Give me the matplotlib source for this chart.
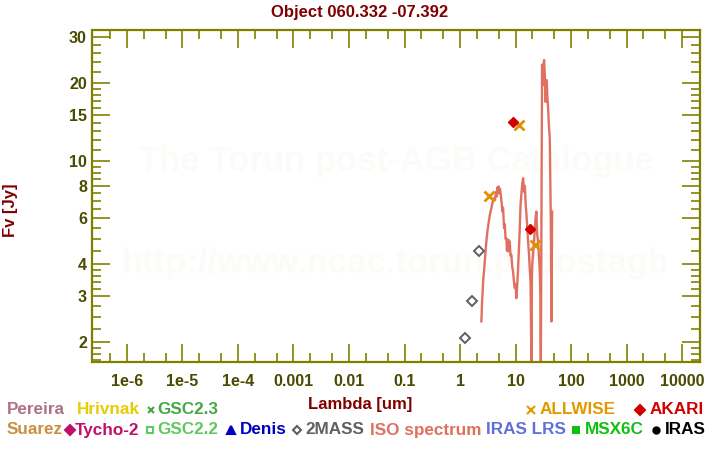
import matplotlib
matplotlib.use('Agg')
import matplotlib.pyplot as plt
from matplotlib.lines import Line2D
from matplotlib.ticker import FixedLocator, FixedFormatter, NullFormatter

plt.rcParams['font.family'] = ['Liberation Sans', 'DejaVu Sans']
plt.rcParams['font.weight'] = 'bold'

# ---------------- data ----------------
twomass_wave = [1.235, 1.662, 2.159]
twomass_flux = [2.07, 2.87, 4.47]

allwise_wave = [3.35, 11.56, 22.1]
allwise_flux = [7.33, 13.8, 4.75]

akari_wave = [9.0, 18.0]
akari_flux = [14.1, 5.48]

iso_wave = [2.42, 2.45, 2.49, 2.55, 2.60, 2.70, 2.79, 2.88, 2.98, 3.10,
            3.29, 3.45, 3.66, 3.85, 4.10, 4.25, 4.40, 4.51, 4.60, 4.72,
            4.85, 4.98, 5.10, 5.25, 5.41, 5.60, 5.78, 5.95, 6.21, 6.40,
            6.60, 6.83, 7.00, 7.15, 7.33, 7.50, 7.70, 7.86, 8.10, 8.40,
            8.70, 9.02, 9.30, 9.68, 10.0, 10.3, 10.7, 11.1, 11.5, 11.9,
            12.3, 12.7, 13.2, 13.7, 14.2, 14.7, 15.2, 15.7, 16.2, 16.8,
            17.4, 18.0, 18.6, 19.3, 19.7, 20.1, 20.8, 21.5, 22.3, 23.0,
            23.7, 24.5, 25.4, 26.3, 27.3, 28.0, 28.5, 30.0, 30.8, 31.6,
            32.6, 33.6, 34.6, 35.6, 36.4, 37.4, 38.3, 39.6, 41.3, 43.1,
            44.2, 45.5]
iso_flux = [2.40, 2.55, 2.86, 3.10, 3.42, 3.75, 4.09, 4.50, 4.88, 5.30,
            5.83, 6.20, 6.56, 6.90, 7.18, 7.05, 7.50, 7.61, 7.30, 7.90,
            7.55, 7.96, 7.50, 7.80, 7.39, 6.90, 6.37, 6.60, 5.50, 5.70,
            5.00, 5.03, 4.50, 4.95, 4.47, 4.95, 4.60, 4.88, 4.30, 4.34,
            3.90, 3.74, 3.45, 3.23, 3.35, 2.95, 3.30, 3.85, 4.60, 5.50,
            6.80, 7.39, 8.20, 8.57, 7.60, 8.00, 6.80, 6.19, 5.60, 4.88,
            4.40, 3.85, 3.40, 1.60, 3.60, 4.09, 4.40, 4.88, 5.50, 6.10,
            6.37, 5.20, 4.88, 4.30, 3.74, 3.00, 1.60, 23.5, 19.6, 23.0,
            24.5, 21.5, 16.9, 19.1, 20.5, 17.5, 16.4, 14.0, 12.2, 5.83,
            2.40, 6.37]

xtick_vals = [1e-6, 1e-5, 1e-4, 1e-3, 1e-2, 1e-1, 1, 10, 100, 1000, 10000]
xtick_labels = ['1e-6', '1e-5', '1e-4', '0.001', '0.01', '0.1', '1', '10',
                '100', '1000', '10000']
ytick_vals = [2, 3, 4, 6, 8, 10, 15, 20, 30]
ytick_labels = ['2', '3', '4', '6', '8', '10', '15', '20', '30']
yminor_vals = [1.7, 1.8, 1.9, 2.25, 2.5, 2.75, 3.2, 3.4, 3.6, 3.8, 4.5, 5,
               5.5, 6.5, 7, 7.5, 8.5, 9, 9.5, 11, 12, 13, 14, 16, 17, 18,
               19, 22, 24, 26, 28]

# ---------------- figure ----------------
W, H = 720, 450
fig = plt.figure(figsize=(7.2, 4.5), dpi=100)
fig.patch.set_facecolor('white')

def fx(x):
    return x / W

def fy(y):
    return 1 - y / H

ax = fig.add_axes([fx(92.5), fy(361.5), (699.5 - 92.5) / W, (361.5 - 30) / H])
ax.set_xscale('log')
ax.set_yscale('log')
ax.set_xlim(2.41e-7, 2.05e4)
ax.set_ylim(1.68, 32.0)

olive = '#808000'
for s in ax.spines.values():
    s.set_color(olive)
    s.set_linewidth(1.6)

xminor = []
for e in range(-7, 5):
    for m in (2, 5):
        v = m * 10.0 ** e
        if 2.41e-7 < v < 1.9e4:
            xminor.append(v)

ax.xaxis.set_major_locator(FixedLocator(xtick_vals))
ax.xaxis.set_major_formatter(FixedFormatter(xtick_labels))
ax.xaxis.set_minor_locator(FixedLocator(xminor))
ax.xaxis.set_minor_formatter(NullFormatter())
ax.yaxis.set_major_locator(FixedLocator(ytick_vals))
ax.yaxis.set_major_formatter(FixedFormatter(ytick_labels))
ax.yaxis.set_minor_locator(FixedLocator(yminor_vals))
ax.yaxis.set_minor_formatter(NullFormatter())

ax.tick_params(which='major', direction='in', length=13, width=1.2,
               color=olive, top=True, right=True, labelsize=11.5,
               labelcolor='#4a4a00')
ax.tick_params(axis='x', which='major', pad=9)
ax.tick_params(axis='y', which='major', pad=4)
ax.tick_params(which='minor', direction='in', length=6.5, width=1.2,
               color=olive, top=True, right=True)

# watermark
ax.text(0.5, 1 - (162 - 30) / (361.5 - 30), 'The Torun post-AGB Catalogue',
        transform=ax.transAxes, ha='center', va='center', fontsize=25,
        color='#fcfbf7', fontweight='bold', zorder=0)
ax.text(0.5, 1 - (263 - 30) / (361.5 - 30), 'http://www.ncac.torun.pl/postagb',
        transform=ax.transAxes, ha='center', va='center', fontsize=25,
        color='#fcfbf7', fontweight='bold', zorder=0)

# data
ax.plot(iso_wave, iso_flux, color='#e07060', lw=1.7, zorder=2)
ax.plot(twomass_wave, twomass_flux, ls='none', marker='D', ms=5,
        mfc='none', mec='#606060', mew=1.4, zorder=3)
ax.plot(allwise_wave, allwise_flux, ls='none', marker='x', ms=6.5,
        color='#e09000', mew=2, zorder=4)
ax.plot(akari_wave, akari_flux, ls='none', marker='D', ms=5.5,
        color='#d00000', zorder=4)

# titles
fig.text(fx(360), fy(12), 'Object 060.332 -07.392', ha='center', va='center',
         fontsize=12, color='#800000', fontweight='bold')
fig.text(fx(360), fy(404), 'Lambda [um]', ha='center', va='center',
         fontsize=12, color='#800000', fontweight='bold')
fig.text(fx(11), fy(210), 'Fv [Jy]', ha='center', va='center', rotation=90,
         fontsize=12, color='#800000', fontweight='bold')

# legend rows
leg_texts = [
    (7, 410, 'Pereira', '#b07088'),
    (77, 410, 'Hrivnak', '#e6cc00'),
    (157, 410, 'GSC2.3', '#44a844'),
    (540, 410, 'ALLWISE', '#e09a00'),
    (650, 410, 'AKARI', '#d00000'),
    (7, 430, 'Suarez', '#c89040'),
    (75, 430, 'Tycho-2', '#c0106a'),
    (157, 430, 'GSC2.2', '#60c860'),
    (240, 430, 'Denis', '#0000c0'),
    (305, 430, '2MASS', '#606060'),
    (370, 430, 'ISO spectrum', '#e07060'),
    (486, 430, 'IRAS LRS', '#6070d8'),
    (585, 430, 'MSX6C', '#10c010'),
    (665, 430, 'IRAS', '#000000'),
]
for x, y, t, c in leg_texts:
    fig.text(fx(x), fy(y), t, ha='left', va='center', fontsize=12.3,
             color=c, fontweight='bold')

leg_marks = [
    (150.5, 410, 'x', '#44a844', True, 4.5),
    (530.5, 410, 'x', '#e09a00', True, 5.5),
    (640, 410, 'D', '#d00000', True, 5),
    (69.5, 430, 'D', '#c0106a', True, 5),
    (150, 430, 's', '#60c860', False, 5),
    (231, 430, '^', '#0000c0', True, 5.5),
    (296.5, 430, 'D', '#606060', False, 4.5),
    (575.5, 430, 's', '#10c010', True, 5),
    (655.5, 430, 'o', '#000000', True, 4.5),
]
for x, y, m, c, filled, s in leg_marks:
    fig.add_artist(Line2D([fx(x)], [fy(y)], transform=fig.transFigure,
                          marker=m, ms=s, ls='none',
                          mfc=c if filled else 'none', mec=c, mew=1.5))

fig.savefig('out.png', dpi=100, facecolor='white')
